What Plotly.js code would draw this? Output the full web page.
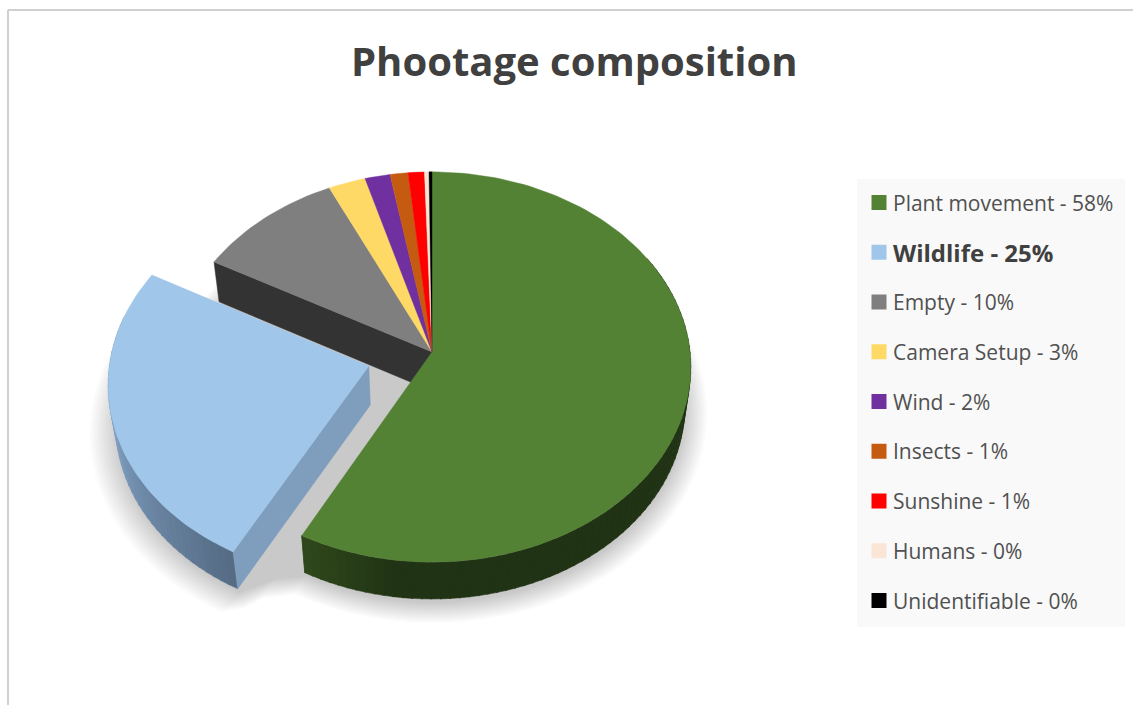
<!DOCTYPE html>
<html>
<head>
<meta charset="utf-8">
<script src="https://cdn.plot.ly/plotly-3.0.1.min.js"></script>
<style>html,body{margin:0;padding:0;background:#fff;overflow:hidden}#chart{width:1133px;height:705px}</style>
</head>
<body>
<div id="chart"></div>
<script>
const titleText = "Phootage composition";
const categories = ["Plant movement","Wildlife","Empty","Camera Setup","Wind","Insects","Sunshine","Humans","Unidentifiable"];
const shares = [57.8,25.2,10,2.5,1.7,1.2,1.1,0.3,0.2];
const colors = ["#548235","#A0C6EA","#7F7F7F","#FFD966","#7030A0","#C55A11","#FF0000","#FBE5D6","#000000"];
const explodedIndex = 1;

// Perspective view of the pie disc, in the page-sized axes below
const topPlane = {cx:432, cy:352, a:258, b:194};
const basePlane = {cx:432, cy:391, a:252, b:192};
const persp = 1/13;
const explode = 0.254;
const rad = d => d*Math.PI/180;

function project(plane, u, v){
  const w = 1 + persp*v;
  return [plane.cx + plane.a*u/w, plane.cy - plane.b*v/w];
}
const total = shares.reduce((a,b)=>a+b,0);
let acc = 0;
const slices = shares.map((s,i)=>{
  const start = acc/total*360; acc += s; const end = acc/total*360;
  const mid = rad((start+end)/2);
  const ex = i===explodedIndex ? explode : 0;
  return {i, start, end, ou:ex*Math.sin(mid), ov:ex*Math.cos(mid)};
});
function rim(plane, sl, d0, d1, scale){
  const k = scale||1, n = Math.max(2, Math.ceil(Math.abs(d1-d0)/1.5)), pts = [];
  for(let j=0;j<=n;j++){
    const t = rad(d0+(d1-d0)*j/n);
    pts.push(project(plane, k*(Math.sin(t)+sl.ou), k*(Math.cos(t)+sl.ov)));
  }
  return pts;
}
const centre = (plane, sl) => project(plane, sl.ou, sl.ov);
const hexRgb = h => [1,3,5].map(p=>parseInt(h.substr(p,2),16));
function mix(c0,c1,t){
  t = Math.max(0,Math.min(1,t));
  const a=hexRgb(c0), b=hexRgb(c1);
  return "rgb("+a.map((v,i)=>Math.round(v+(b[i]-v)*t)).join(",")+")";
}
function poly(pts, fill, lineW){
  const xs = pts.map(p=>p[0]).concat([pts[0][0]]);
  const ys = pts.map(p=>p[1]).concat([pts[0][1]]);
  return {type:"scatter", mode:"lines", x:xs, y:ys, fill:"toself", fillcolor:fill,
    line:{color:lineW?fill:"rgba(0,0,0,0)", width:lineW||0}, hoverinfo:"skip", showlegend:false};
}
const traces = [];

// Soft drop shadow: stacked translucent outlines of the whole pie
const green = slices[0], blue = slices[explodedIndex];
const shadowPlane = {cx:433, cy:396, a:252, b:192};
const shadowLayers = 18;
for(let l=0;l<shadowLayers;l++){
  const s = 1.085 - 0.09*l/(shadowLayers-1);
  const spread = s - 0.995;
  const gArc = rim(shadowPlane, green, 0, green.end, s);
  const bArc = rim(shadowPlane, blue, blue.start, blue.end, s);
  const gEnd = gArc[gArc.length-1], bStart = bArc[0];
  const notch = [(gEnd[0]+bStart[0])/2 + 4, (gEnd[1]+bStart[1])/2 - (6 - 20*spread)];
  const tipRight = [bStart[0] + 260*spread, bStart[1] - 40*spread];
  const pts = [].concat(gArc, [notch, tipRight], bArc, rim(shadowPlane, green, blue.end, 360, s));
  traces.push(poly(pts, "rgba(0,0,0,0.012)"));
}

// Cut face of the slice next to the exploded one
const nextStart = blue.end;
const nSl = slices[2];
traces.push(poly([
  centre(topPlane,nSl), rim(topPlane,nSl,nextStart,nextStart)[0],
  rim(basePlane,nSl,nextStart,nextStart)[0], centre(basePlane,nSl)
], "#333333", 0.5));

// Outer walls, as narrow strips shaded along the arc
function wall(sl, d0, d1, shade){
  for(let d=d0; d<d1; d+=2){
    const e = Math.min(d+2.3,d1);
    const a = rim(topPlane,sl,d,e), b = rim(basePlane,sl,d,e).reverse();
    traces.push(poly(a.concat(b), shade(d), 0.5));
  }
}
wall(green, 60, green.end, d => mix("#203314","#30491C",(d-186)/22));

// Exploded slice: wall and cut face
wall(blue, blue.start, 285, d => mix("#566C85","#7F9FC2",(d-blue.start)/48));
traces.push(poly([
  centre(topPlane,blue), rim(topPlane,blue,blue.start,blue.start)[0],
  rim(basePlane,blue,blue.start,blue.start)[0], centre(basePlane,blue)
], "#7F9DBD", 0.5));

// Top faces
[0].concat(slices.slice(2).map(s=>s.i), [explodedIndex]).forEach(i=>{
  const sl = slices[i];
  const t = poly([centre(topPlane,sl)].concat(rim(topPlane,sl,sl.start,sl.end)), colors[i], 0.4);
  t.name = categories[i];
  traces.push(t);
});

// Legend swatches
const legendX = 879, legendTextX = 891, legendTop = 202.5, legendStep = 49.75;
const legendY = categories.map((c,i)=>legendTop+i*legendStep);
traces.push({type:"scatter", mode:"markers", x:categories.map(()=>legendX), y:legendY,
  marker:{symbol:"square", size:15, color:colors, line:{width:0}}, hoverinfo:"skip", showlegend:false});

const annotations = categories.map((c,i)=>{
  const bold = i===explodedIndex;
  const label = c+" - "+Math.round(shares[i]/total*100)+"%";
  return {x:legendTextX, y:legendY[i], xref:"x", yref:"y", xanchor:"left", yanchor:"middle",
    showarrow:false, text:bold?"<b>"+label+"</b>":label,
    font:{family:"'Open Sans', sans-serif", size:bold?24:21, color:bold?"#404040":"#505050"}};
});
annotations.push({x:574, y:60, xref:"x", yref:"y", xanchor:"center", yanchor:"middle", showarrow:false,
  text:"<b>"+titleText+"</b>", font:{family:"'Open Sans', sans-serif", size:40, color:"#404040"}});

const layout = {
  width:1133, height:705, margin:{l:0,r:0,t:0,b:0}, paper_bgcolor:"#ffffff", plot_bgcolor:"#ffffff",
  showlegend:false, hovermode:false,
  xaxis:{range:[0,1133], visible:false, fixedrange:true},
  yaxis:{range:[705,0], visible:false, fixedrange:true},
  annotations,
  shapes:[
    {type:"rect", layer:"below", xref:"x", yref:"y", x0:857, x1:1125, y0:179, y1:627, fillcolor:"#F9F9F9", line:{width:0}},
    {type:"line", layer:"below", xref:"x", yref:"y", x0:8, x1:1133, y0:10, y1:10, line:{color:"#D0D0D0", width:2}},
    {type:"line", layer:"below", xref:"x", yref:"y", x0:8, x1:8, y0:10, y1:705, line:{color:"#D0D0D0", width:2}}
  ]
};
Plotly.newPlot("chart", traces, layout, {displayModeBar:false, staticPlot:true});
</script>
</body>
</html>
